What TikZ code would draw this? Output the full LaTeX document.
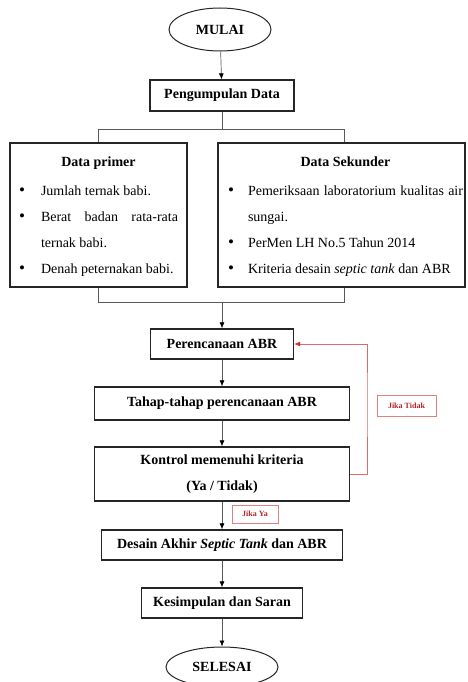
\documentclass[tikz,border=0pt]{standalone}
\usepackage{fontspec}
\setmainfont{Liberation Serif}
\usepackage{xcolor}
\usetikzlibrary{shapes.geometric, arrows.meta, positioning}
\definecolor{merah}{RGB}{205,45,45}
\definecolor{merahmuda}{RGB}{225,130,130}
\newcommand{\titik}{{\fontsize{17}{17}\selectfont\textbullet}}
\tikzset{
	block/.style={draw=black!85, line width=1.3pt, inner sep=0pt, font=\fontsize{14}{26}\selectfont\bfseries, align=center},
	terminal/.style={block, ellipse, line width=1pt},
	listbox/.style={draw=black!85, line width=1.3pt, inner sep=0pt, font=\fontsize{14}{26}\selectfont},
	conn/.style={draw=black!65, line width=0.7pt},
	panah/.style={conn, -{Latex[length=6pt,width=5pt,color=black]}},
	tidak/.style={draw=merah!70, line width=0.8pt, -{Latex[length=6pt,width=5pt,color=merah]}},
	ket/.style={draw=merahmuda, line width=0.8pt, text=merah!85!black, font=\fontsize{8}{9}\selectfont\bfseries, inner sep=0pt}
}

\begin{document}
\begin{tikzpicture}[x=1pt, y=-1pt]
	\useasboundingbox (0,0) rectangle (467,682);
	
	\node[terminal, minimum width=102pt, minimum height=43pt] (mulai) at (220,29.5) {MULAI};
	\node[block, minimum width=144pt, minimum height=31pt] (kumpul) at (222,95.5) {Pengumpulan Data};
	
	% data primer / sekunder
	\node[listbox, minimum width=177pt, minimum height=144pt] (primer) at (98.5,215) {%
		\begin{tabular}{@{}p{22pt}@{}p{137pt}@{}}
			\multicolumn{2}{c}{\bfseries Data primer}\\[3pt]
			\titik & Jumlah ternak babi.\\
			\titik & \makebox[137pt][s]{Berat badan rata-rata}\\
			& ternak babi.\\
			\titik & Denah peternakan babi.
		\end{tabular}};
	\node[listbox, minimum width=247pt, minimum height=144pt] (sekunder) at (341.5,215) {%
		\hspace{8pt}\begin{tabular}{@{}p{20pt}@{}p{215pt}@{}}
			\multicolumn{2}{c}{\bfseries Data Sekunder}\\[3pt]
			\titik & \makebox[215pt][s]{Pemeriksaan laboratorium kualitas air}\\
			& sungai.\\
			\titik & PerMen LH No.5 Tahun 2014\\
			\titik & Kriteria desain \textit{septic tank} dan ABR
		\end{tabular}};
	
	\node[block, minimum width=143pt, minimum height=30pt] (rencana) at (222,344) {Perencanaan ABR};
	\node[block, minimum width=255pt, minimum height=33pt] (tahap) at (222,403.5) {Tahap-tahap perencanaan ABR};
	\node[block, minimum width=255pt, minimum height=54pt] (kontrol) at (222,474) {Kontrol memenuhi kriteria\\(Ya / Tidak)};
	\node[block, minimum width=241pt, minimum height=30pt] (desain) at (222,545) {Desain Akhir \textit{Septic Tank} dan ABR};
	\node[block, minimum width=161pt, minimum height=30pt] (simpul) at (222,603) {Kesimpulan dan Saran};
	\node[terminal, minimum width=112pt, minimum height=40pt] (selesai) at (222,667) {SELESAI};
	
	\node[ket, minimum width=59pt, minimum height=21pt] (ketTidak) at (406.5,405.5) {Jika Tidak};
	\node[ket, minimum width=46pt, minimum height=18pt] (ketYa) at (255,514) {Jika Ya};
	
	% percabangan data
	\coordinate (atasKiri) at (98.5,129);
	\coordinate (atasKanan) at (344,129);
	\coordinate (bawahKiri) at (98.5,302);
	\coordinate (bawahKanan) at (344,302);
	\draw[conn] (kumpul.south) -- (kumpul.south |- atasKiri);
	\draw[conn] (primer.north) -- (atasKiri) -- (atasKanan) -- (atasKanan |- sekunder.north);
	\draw[conn] (primer.south) -- (bawahKiri) -- (bawahKanan) -- (bawahKanan |- sekunder.south);
	
	\draw[panah] (mulai) -- (kumpul);
	\draw[panah] (rencana.north |- bawahKiri) -- (rencana);
	\draw[panah] (rencana) -- (tahap);
	\draw[panah] (tahap) -- (kontrol);
	\draw[panah] (kontrol) -- (desain);
	\draw[panah] (desain) -- (simpul);
	\draw[panah] (simpul) -- (selesai);
	
	% umpan balik
	\coordinate (balik) at (367,400);
	\draw[tidak] (kontrol.east) -| (balik) |- (rencana.east);
\end{tikzpicture}
\end{document}
